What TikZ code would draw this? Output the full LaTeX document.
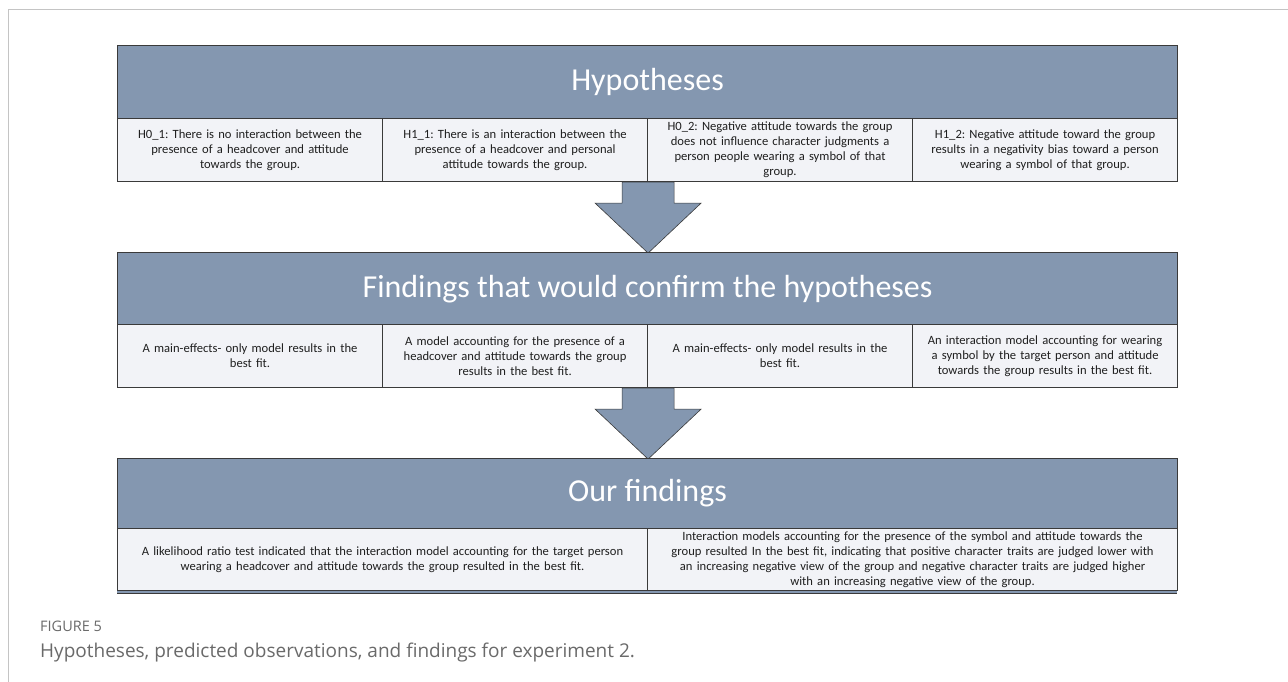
\documentclass[tikz,border=0pt]{standalone}
\usepackage{fontspec}
\setmainfont{Carlito}
\newfontfamily\capfont{Open Sans}
\usetikzlibrary{calc}
\definecolor{headfill}{HTML}{8497B0}
\definecolor{cellfill}{HTML}{F2F3F7}
\definecolor{edge}{HTML}{3A3A3A}
\definecolor{framegray}{HTML}{C4C4C4}
\definecolor{capgray}{HTML}{6A6A6A}
\tikzset{
  head/.style={draw=edge, line width=1.1pt, fill=headfill, minimum width=1060pt, minimum height=73pt,
    inner sep=0pt, anchor=north west, text=white, font=\fontsize{32}{38}\selectfont},
  cell/.style={draw=edge, line width=1.1pt, fill=cellfill, minimum width=265pt, minimum height=63pt,
    text width=262pt, align=center, inner sep=0pt, anchor=north west, text=black!88, font=\fontsize{12.6}{15}\selectfont},
  wcell/.style={cell, minimum width=530pt, text width=526pt},
  bigarrow/.style={draw=edge, line width=0.6pt, fill=headfill},
}
\frenchspacing
\begin{document}
\begin{tikzpicture}[x=1pt,y=-1pt]
\useasboundingbox (0,0) rectangle (1288,682);
\fill[white] (0,0) rectangle (1288,682);
\draw[framegray, line width=1pt] (8,682) -- (8,10) -- (1288,10);

% Box 1
\node[head] (h1) at (117,45) {Hypotheses};
\node[cell] (a1) at (117,118) {H0\_1: There is no interaction between the\\presence of a headcover and attitude\\towards the group.};
\node[cell] (a2) at (382,118) {H1\_1: There is an interaction between the\\presence of a headcover and personal\\attitude towards the group.};
\node[cell] (a3) at (647,118) {H0\_2: Negative attitude towards the group\\does not influence character judgments a\\person people wearing a symbol of that\\group.};
\node[cell] (a4) at (912,118) {H1\_2: Negative attitude toward the group\\results in a negativity bias toward a person\\wearing a symbol of that group.};

% Arrow 1
\coordinate (t1) at (a2.south east);
\draw[bigarrow] ([xshift=-26pt]t1) -- ++(0,21) -- ++(-27,0) -- ++(53,50) -- ++(53,-50) -- ++(-27,0) -- ++(0,-21) -- cycle;

% Box 2
\node[head] (h2) at (117,252) {Findings that would confirm the hypotheses};
\node[cell] (b1) at (117,324) {A main-effects- only model results in the\\best fit.};
\node[cell] (b2) at (382,324) {A model accounting for the presence of a\\headcover and attitude towards the group\\results in the best fit.};
\node[cell] (b3) at (647,324) {A main-effects- only model results in the\\best fit.};
\node[cell] (b4) at (912,324) {An interaction model accounting for wearing\\a symbol by the target person and attitude\\towards the group results in the best fit.};

% Arrow 2
\coordinate (t2) at (b2.south east);
\draw[bigarrow] ([xshift=-26pt]t2) -- ++(0,21) -- ++(-27,0) -- ++(53,50) -- ++(53,-50) -- ++(-27,0) -- ++(0,-21) -- cycle;

% Box 3
\node[head, minimum height=70pt] (h3) at (117,458) {Our findings};
\fill[headfill] (117,590) rectangle (1177,593.5);
\draw[edge, line width=1.1pt] (117,593.5) -- (1177,593.5);
\node[wcell, minimum height=62pt] (c1) at (117,528) {A likelihood ratio test indicated that the interaction model accounting for the target person\\wearing a headcover and attitude towards the group resulted in the best fit.};
\node[wcell, minimum height=62pt] (c2) at (647,528) {Interaction models accounting for the presence of the symbol and attitude towards the\\group resulted In the best fit, indicating that positive character traits are judged lower with\\an increasing negative view of the group and negative character traits are judged higher\\with an increasing negative view of the group.};

% Caption
\node[anchor=west, inner sep=0pt, text=capgray, font=\capfont\fontsize{14.5}{17}\selectfont] (fig) at (40,626) {FIGURE 5};
\node[anchor=west, inner sep=0pt, text=capgray, font=\capfont\fontsize{19}{23}\selectfont] (cap) at (40,653) {Hypotheses, predicted observations, and findings for experiment 2.};
\end{tikzpicture}
\end{document}
